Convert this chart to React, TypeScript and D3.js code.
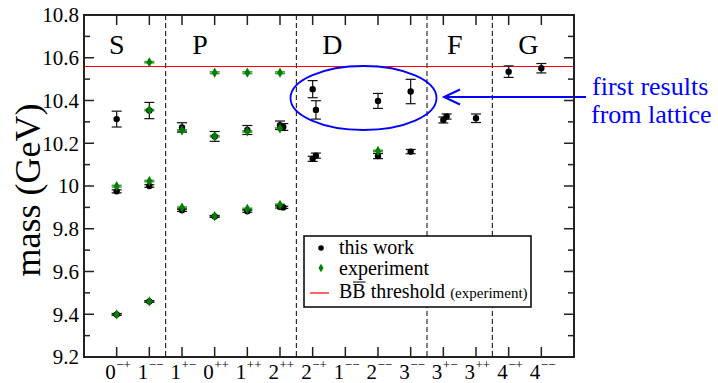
import React from "react";
import * as d3 from "d3";

// ---------- data ----------
const tickJ = ["0", "1", "1", "0", "1", "2", "2", "1", "2", "3", "3", "3", "4", "4"];
const tickPC = ["−+", "−−", "+−", "++", "++", "++", "−+", "−−", "−−", "−−", "+−", "++", "−+", "−−"];

const sectionNames = ["S", "P", "D", "F", "G"];
const sectionPos = [0, 2.55, 6.6, 10.35, 12.6];
const dividers = [1.5, 5.5, 9.5, 11.5];

// this work (lattice)
const latCat = [0, 0, 0, 1, 1, 1, 2, 2, 3, 3, 4, 4, 5, 5, 5, 5, 6, 6, 6, 6, 8, 8, 9, 9, 10, 10, 11, 12, 13];
const latOff = [0, 0, 0, 0, 0, 0, 0, 0, 0, 0, 0, 0, 0, 0.1, 0, 0.1, 0, 0.1, 0, 0.1, 0, 0, 0, 0, 0, 0.1, 0, 0, 0];
const latMass = [9.399, 9.975, 10.313, 9.46, 10.0, 10.353, 9.886, 10.274, 9.857, 10.232, 9.882, 10.262, 9.902, 9.9, 10.284, 10.276, 10.453, 10.356, 10.127, 10.142, 10.398, 10.14, 10.442, 10.161, 10.309, 10.325, 10.317, 10.535, 10.551];
const latErr = [0.004, 0.007, 0.037, 0.004, 0.006, 0.038, 0.005, 0.022, 0.004, 0.023, 0.005, 0.021, 0.005, 0.005, 0.02, 0.016, 0.04, 0.043, 0.012, 0.012, 0.035, 0.012, 0.057, 0.01, 0.014, 0.012, 0.02, 0.027, 0.022];

// experiment
const expCat = [0, 0, 1, 1, 1, 1, 2, 2, 3, 3, 3, 4, 4, 4, 5, 5, 5, 8];
const expMass = [9.399, 9.999, 9.46, 10.023, 10.355, 10.579, 9.899, 10.26, 9.859, 10.233, 10.53, 9.893, 10.255, 10.53, 9.912, 10.269, 10.53, 10.164];
const expErr = [0.004, 0.004, 0.003, 0.003, 0.003, 0.003, 0.003, 0.003, 0.003, 0.003, 0.004, 0.003, 0.003, 0.004, 0.003, 0.003, 0.004, 0.003];

const threshold = 10.559;
const yTicks = [9.2, 9.4, 9.6, 9.8, 10, 10.2, 10.4, 10.6, 10.8];
const yTickLabels = ["9.2", "9.4", "9.6", "9.8", "10", "10.2", "10.4", "10.6", "10.8"];

// ---------- layout ----------
const W = 718, H = 383;
const L = 84, R = 574, T = 15, B = 357;
const FONT = "Liberation Serif, DejaVu Serif, serif";
const tf = { fontFamily: FONT };

export default function App() {
  const x = d3.scaleLinear().domain([-1, 14]).range([L, R]);
  const y = d3.scaleLinear().domain([9.2, 10.8]).range([B, T]);
  const minor = d3.range(9.3, 10.8, 0.2);
  const cats = d3.range(0, 14);
  const cap = 5;
  const diamond = d3.symbol().type(d3.symbolDiamond).size(30)();

  return (
    <svg width={W} height={H} style={{ position: "absolute", left: 0, top: 0, background: "#fff" }}>
      {/* dividers */}
      {dividers.map((d, i) => (
        <line key={"dv" + i} x1={x(d)} x2={x(d)} y1={T} y2={B} stroke="#000" strokeWidth={1} strokeDasharray="5,3" />
      ))}
      {/* threshold */}
      <line x1={L} x2={R} y1={y(threshold)} y2={y(threshold)} stroke="#ff0000" strokeWidth={1.2} />

      {/* section labels */}
      {sectionNames.map((s, i) => (
        <text key={"s" + i} x={x(sectionPos[i])} y={54} fontSize={28} textAnchor="middle" style={tf}>{s}</text>
      ))}

      {/* experiment error bars */}
      {expCat.map((c, i) => {
        const cx = x(c), y1 = y(expMass[i] - expErr[i]), y2 = y(expMass[i] + expErr[i]);
        return (
          <g key={"eb" + i} stroke="#3a9a3a" strokeWidth={1.5}>
            <line x1={cx} x2={cx} y1={y1} y2={y2} />
            <line x1={cx - cap} x2={cx + cap} y1={y1} y2={y1} />
            <line x1={cx - cap} x2={cx + cap} y1={y2} y2={y2} />
          </g>
        );
      })}

      {/* lattice error bars and points */}
      {latCat.map((c, i) => {
        const cx = x(c + latOff[i]);
        const y1 = y(latMass[i] - latErr[i]), y2 = y(latMass[i] + latErr[i]);
        return (
          <g key={"lb" + i}>
            <g stroke="#111" strokeWidth={1.2}>
              <line x1={cx} x2={cx} y1={y1} y2={y2} />
              <line x1={cx - cap} x2={cx + cap} y1={y1} y2={y1} />
              <line x1={cx - cap} x2={cx + cap} y1={y2} y2={y2} />
            </g>
            <circle cx={cx} cy={y(latMass[i])} r={3.2} fill="#000" />
          </g>
        );
      })}

      {/* experiment points */}
      {expCat.map((c, i) => (
        <path key={"ep" + i} d={diamond as string} transform={`translate(${x(c)},${y(expMass[i])})`} fill="#008000" />
      ))}

      {/* ellipse + arrow annotation */}
      <ellipse cx={363.5} cy={98} rx={73} ry={32} fill="none" stroke="#0000ff" strokeWidth={1.8} />
      <line x1={444} x2={586} y1={97} y2={97} stroke="#0000ff" strokeWidth={2} />
      <polyline points="460,89.5 444,97 460,104.5" fill="none" stroke="#0000ff" strokeWidth={2} />
      <text x={592} y={95} fontSize={26} fill="#0000ff" style={tf}>first results</text>
      <text x={591} y={123} fontSize={26} fill="#0000ff" style={tf}>from lattice</text>

      {/* frame */}
      <rect x={L} y={T} width={R - L} height={B - T} fill="none" stroke="#222" strokeWidth={2} />

      {/* y ticks */}
      {yTicks.map((t, i) => (
        <g key={"yt" + i}>
          <line x1={L} x2={L + 10} y1={y(t)} y2={y(t)} stroke="#222" strokeWidth={1.5} />
          <line x1={R} x2={R - 10} y1={y(t)} y2={y(t)} stroke="#222" strokeWidth={1.5} />
          <text x={79} y={y(t)} dy="0.35em" fontSize={21} textAnchor="end" style={tf}>{yTickLabels[i]}</text>
        </g>
      ))}
      {minor.map((t, i) => (
        <g key={"ym" + i}>
          <line x1={L} x2={L + 6} y1={y(t)} y2={y(t)} stroke="#222" strokeWidth={1.5} />
          <line x1={R} x2={R - 6} y1={y(t)} y2={y(t)} stroke="#222" strokeWidth={1.5} />
        </g>
      ))}
      {/* x ticks */}
      {cats.map((c) => (
        <g key={"xt" + c}>
          <line x1={x(c)} x2={x(c)} y1={B} y2={B - 10} stroke="#222" strokeWidth={1.5} />
          <line x1={x(c)} x2={x(c)} y1={T} y2={T + 10} stroke="#222" strokeWidth={1.5} />
          <text x={x(c) - 1} y={379} fontSize={21} textAnchor="end" style={tf}>{tickJ[c]}</text>
          <text x={x(c) - 0.5} y={369} fontSize={13} textAnchor="start" style={tf}>{tickPC[c]}</text>
        </g>
      ))}

      {/* y label */}
      <text transform={`translate(40,190) rotate(-90)`} fontSize={36} textAnchor="middle" style={tf}>mass (GeV)</text>

      {/* legend */}
      <rect x={304} y={236} width={227} height={71} fill="#fff" stroke="#000" strokeWidth={1.5} />
      <circle cx={321} cy={248} r={2.8} fill="#000" />
      <text x={339} y={254} fontSize={20} style={tf}>this work</text>
      <path d={d3.symbol().type(d3.symbolDiamond).size(22)() as string} transform="translate(321,268)" fill="#008000" />
      <text x={339} y={275} fontSize={20} style={tf}>experiment</text>
      <line x1={310} x2={329} y1={293} y2={293} stroke="#ff0000" strokeWidth={1.2} />
      <text x={339} y={298} fontSize={20} style={tf}>
        BB threshold <tspan fontSize={15}>(experiment)</tspan>
      </text>
      <line x1={353} x2={365.5} y1={282} y2={282} stroke="#000" strokeWidth={1} />
    </svg>
  );
}
